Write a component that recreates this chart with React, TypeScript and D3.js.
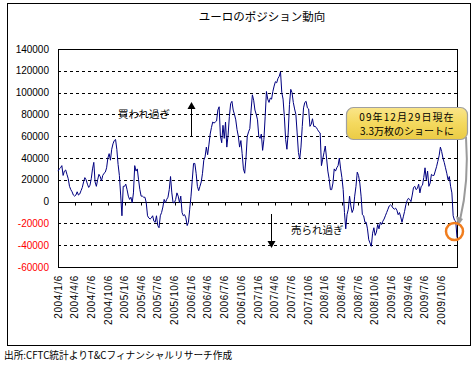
import React from 'react';
import * as d3 from 'd3';

const chartTitle = 'ユーロのポジション動向';
const sourceNote = '出所:CFTC統計よりT&Cフィナンシャルリサーチ作成';
const overboughtLabel = '買われ過ぎ';
const oversoldLabel = '売られ過ぎ';
const calloutLines = ['09年12月29日現在', '3.3万枚のショートに'];

// weekly net positions (contracts), first week 2004/1/6
const firstWeek = '2004/1/6';
const pos2004 = [28000, 30000, 31000, 33000, 24000, 28000, 29000, 25000, 21000, 14000, 11000, 9000, 6000, 5000, 6000, 9000, 6000, 7000, 10000, 13000, 18000, 22000, 20000, 16000, 13000, 15000, 21000, 30000, 36000, 18000, 14000, 20000, 25000, 23000, 19000, 24000, 26000, 27000, 31000, 40000, 44000, 38000, 48000, 53000, 56000, 57000, 48000, 34000, 24000, 6000, -13000, 14000];
const pos2005 = [14000, 16000, 11000, 5000, 2000, 4000, -1000, 8000, 33000, 28000, 30000, 20000, 11000, 5000, 5000, 4000, 4000, -1000, -13000, -15000, -16000, -15000, -13000, -18000, -19000, -13000, -22000, -24000, -13000, -10000, -5000, 2000, -1000, 2000, 4000, 11000, 23000, 8000, -1000, -1000, 2000, 8000, 5000, -1000, 5000, -10000, -13000, -12000, -15000, -22000, -19000, -7000];
const pos2006 = [5000, 20000, 35000, 35000, 26000, 14000, 10000, 14000, 18000, 26000, 38000, 41000, 50000, 43000, 52000, 62000, 68000, 73000, 72000, 73000, 74000, 84000, 87000, 60000, 54000, 70000, 58000, 73000, 50000, 61000, 78000, 90000, 92000, 84000, 80000, 75000, 66000, 60000, 50000, 56000, 44000, 30000, 26000, 40000, 60000, 64000, 67000, 84000, 98000, 93000, 84000, 80000];
const pos2007 = [75000, 60000, 58000, 62000, 47000, 57000, 78000, 101000, 94000, 91000, 95000, 94000, 101000, 106000, 110000, 109000, 113000, 115000, 119000, 100000, 94000, 78000, 57000, 48000, 63000, 89000, 103000, 100000, 91000, 85000, 80000, 63000, 45000, 39000, 50000, 69000, 86000, 91000, 92000, 86000, 85000, 69000, 71000, 76000, 69000, 69000, 68000, 66000, 64000, 63000, 33000, 39000];
const pos2008 = [45000, 51000, 40000, 28000, 21000, 11000, 11000, 17000, 30000, 28000, 31000, 33000, 40000, 30000, 22000, 11000, -10000, -25000, -12000, -7000, 5000, -4000, -10000, -7000, 5000, 14000, 27000, 24000, 17000, 5000, -12000, -13000, -19000, -19000, -25000, -35000, -38000, -41000, -29000, -24000, -31000, -28000, -21000, -25000, -19000, -21000, -18000, -16000, -13000, -10000, -7000, -4000, -3000];
const pos2009 = [-4000, -6000, -7000, -6000, -8000, -12000, -10000, -14000, -19000, -14000, -9000, -3000, 1000, 3000, 2000, 0, 6000, 13000, 14000, 11000, 12000, 16000, 8000, 14000, 15000, 22000, 31000, 20000, 28000, 14000, 17000, 25000, 24000, 24000, 28000, 32000, 37000, 42000, 50000, 46000, 40000, 36000, 31000, 26000, 20000, 23000, 14000, 8000, -13000, -17000, -18000, -33000];

const yTicks = [140000, 120000, 100000, 80000, 60000, 40000, 20000, 0, -20000, -40000, -60000];
const xTickLabels = [
  '2004/1/6', '2004/4/6', '2004/7/6', '2004/10/6',
  '2005/1/6', '2005/4/6', '2005/7/6', '2005/10/6',
  '2006/1/6', '2006/4/6', '2006/7/6', '2006/10/6',
  '2007/1/6', '2007/4/6', '2007/7/6', '2007/10/6',
  '2008/1/6', '2008/4/6', '2008/7/6', '2008/10/6',
  '2009/1/6', '2009/4/6', '2009/7/6', '2009/10/6',
];

const parseYMD = (s: string) => {
  const [yy, mm, dd] = s.split('/').map(Number);
  return new Date(Date.UTC(yy, mm - 1, dd));
};

const NUM_FONT = "'Liberation Sans', Arial, sans-serif";
const JP_FONT = "'Noto Sans CJK JP', sans-serif";

export default function App() {
  const W = 475;
  const H = 368;
  const plot = { left: 58, right: 457, top: 49, bottom: 267 };

  const values = [...pos2004, ...pos2005, ...pos2006, ...pos2007, ...pos2008, ...pos2009];
  const start = parseYMD(firstWeek);
  const dates = values.map((_, i) => d3.utcDay.offset(start, i * 7));

  const x = d3.scaleUtc().domain([start, dates[dates.length - 1]]).range([plot.left, plot.right]);
  const y = d3.scaleLinear().domain([-60000, 140000]).range([plot.bottom, plot.top]);

  const lineGen = d3
    .line<number>()
    .x((_, i) => x(dates[i]))
    .y((d) => y(d));

  const snap = (v: number) => Math.round(v) + 0.5;
  const y0 = snap(y(0));

  return (
    <svg
      width={W}
      height={H}
      style={{ position: 'absolute', left: 0, top: 0, background: '#fff' }}
    >
      <rect x={0} y={0} width={W} height={H} fill="#fff" />
      {/* outer frame */}
      <rect x={7.5} y={3.5} width={463} height={342} fill="none" stroke="#000" strokeWidth={1} />

      {/* title */}
      <text x={262} y={21} textAnchor="middle" fontFamily={JP_FONT} fontSize={11.5} fill="#000">
        {chartTitle}
      </text>

      {/* gridlines */}
      {yTicks
        .filter((t) => t !== 0 && t !== 140000 && t !== -60000)
        .map((t) => (
          <line
            key={t}
            x1={plot.left}
            x2={plot.right}
            y1={snap(y(t))}
            y2={snap(y(t))}
            stroke="#000"
            strokeWidth={1}
            strokeDasharray="3,3"
          />
        ))}

      {/* plot border */}
      <rect
        x={plot.left + 0.5}
        y={plot.top + 0.5}
        width={plot.right - plot.left}
        height={plot.bottom - plot.top}
        fill="none"
        stroke="#000"
        strokeWidth={1}
      />

      {/* zero line and ticks */}
      <line x1={plot.left} x2={plot.right} y1={y0} y2={y0} stroke="#000" strokeWidth={1} />
      {xTickLabels.map((s) => {
        const xx = snap(x(parseYMD(s)));
        return <line key={'t' + s} x1={xx} x2={xx} y1={y0} y2={y0 + 3} stroke="#000" strokeWidth={1} />;
      })}

      {/* y labels */}
      {yTicks.map((t) => (
        <text
          key={'yl' + t}
          x={49}
          y={y(t)}
          dy="0.35em"
          textAnchor="end"
          fontFamily={NUM_FONT}
          fontSize={10}
          fill={t < 0 ? '#ff0000' : '#000'}
        >
          {t}
        </text>
      ))}

      {/* x labels */}
      {xTickLabels.map((s) => {
        const xx = x(parseYMD(s));
        return (
          <text
            key={'xl' + s}
            transform={`translate(${xx},275) rotate(-90)`}
            dy="0.35em"
            textAnchor="end"
            fontFamily={NUM_FONT}
            fontSize={10}
            letterSpacing={0.6}
            fill="#000"
          >
            {s}
          </text>
        );
      })}

      {/* data line */}
      <path d={lineGen(values) || ''} fill="none" stroke="#000080" strokeWidth={1} />

      {/* overbought annotation */}
      <text x={118} y={118} fontFamily={JP_FONT} fontSize={10.5} fill="#000">
        {overboughtLabel}
      </text>
      <line x1={191.5} x2={191.5} y1={137} y2={108} stroke="#000" strokeWidth={1} />
      <path d="M187.5,109 L195.5,109 L191.5,102 Z" fill="#000" />

      {/* oversold annotation */}
      <text x={291} y={234} fontFamily={JP_FONT} fontSize={10.5} fill="#000">
        {oversoldLabel}
      </text>
      <line x1={271.5} x2={271.5} y1={214} y2={242} stroke="#000" strokeWidth={1} />
      <path d="M267.5,241 L275.5,241 L271.5,248 Z" fill="#000" />

      {/* callout */}
      <defs>
        <linearGradient id="calloutFill" x1="0" y1="0" x2="0" y2="1">
          <stop offset="0" stopColor="#FAE58A" />
          <stop offset="0.5" stopColor="#F4D95E" />
          <stop offset="1" stopColor="#EBCB45" />
        </linearGradient>
      </defs>
      <path
        d="M466,137 C468,165 466,195 460,220"
        fill="none"
        stroke="#9a9a9a"
        strokeWidth={2}
      />
      <path d="M456,216 L463,219 L458,226 Z" fill="#9a9a9a" />
      <rect
        x={346.5}
        y={107.5}
        width={121}
        height={32}
        rx={7}
        ry={7}
        fill="url(#calloutFill)"
        stroke="#a0a0a0"
        strokeWidth={1.2}
      />
      <text x={407} y={120.5} textAnchor="middle" fontFamily={JP_FONT} fontSize={10} letterSpacing={1.1} fill="#000">
        {calloutLines[0]}
      </text>
      <text x={407} y={135} textAnchor="middle" fontFamily={JP_FONT} fontSize={10} fill="#000">
        {calloutLines[1]}
      </text>
      <circle cx={454.5} cy={231.5} r={8.5} fill="none" stroke="#F07D1E" strokeWidth={2.5} />

      {/* source */}
      <text x={4} y={359} fontFamily={JP_FONT} fontSize={9.7} fill="#000">
        {sourceNote}
      </text>
    </svg>
  );
}
